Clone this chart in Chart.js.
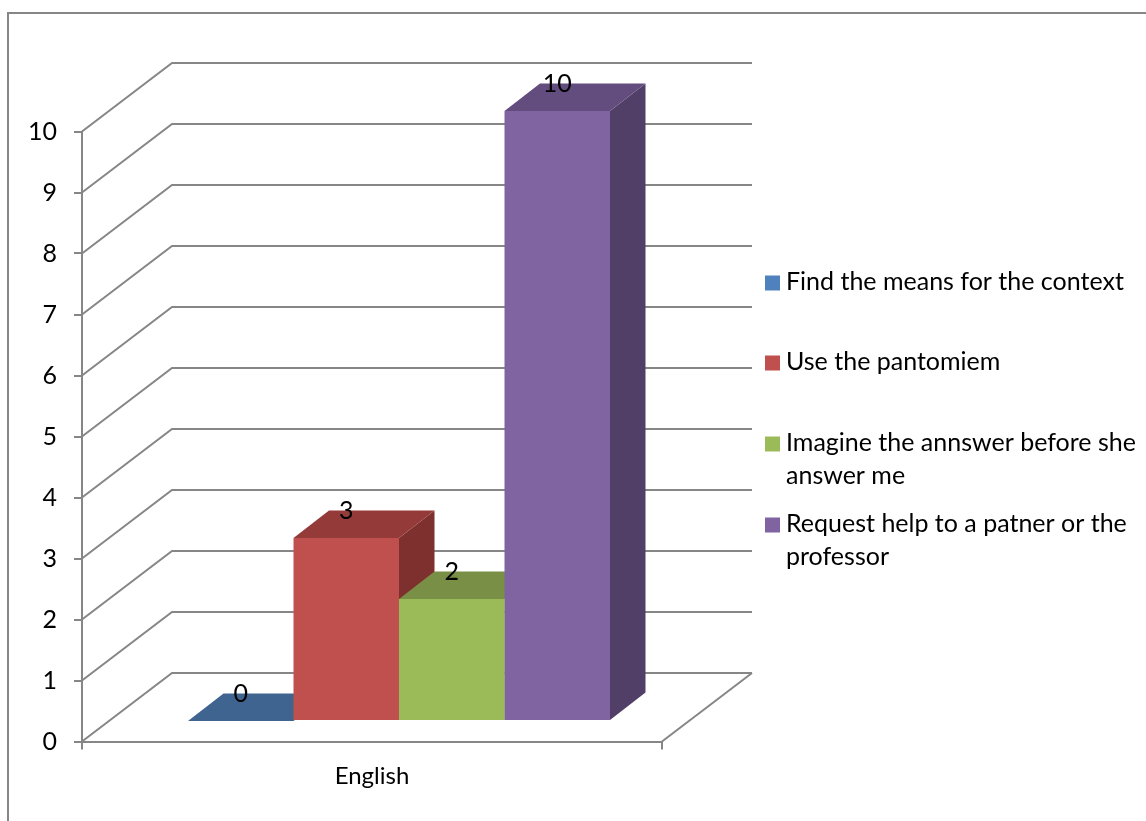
<!DOCTYPE html>
<html>
<head>
<meta charset="utf-8">
<title>English</title>
<script src="https://cdn.jsdelivr.net/npm/chart.js@4"></script>
<style>
    html, body { margin: 0; padding: 0; background: #fff; overflow: hidden; }
    #frame { position: absolute; left: 7px; top: 12px; right: 0; bottom: 0; border-top: 2px solid #868686; border-left: 2px solid #868686; }
    #chart { position: absolute; left: 0; top: 0; }
</style>
</head>
<body>
<div id="frame"></div>
<canvas id="chart" width="1146" height="821"></canvas>
<script>
// Data
const categories = ['English'];
const seriesNames = [
    'Find the means for the context',
    'Use the pantomiem',
    'Imagine the annswer before she answer me',
    'Request help to a patner or the professor'
];
const findMeans = [0];
const usePantomime = [3];
const imagineAnswer = [2];
const requestHelp = [10];
const yTicks = [0, 1, 2, 3, 4, 5, 6, 7, 8, 9, 10];

// Colours: front, top and side face of each bar
const frontColors = ['#4F81BD', '#C0504D', '#9BBB59', '#8064A2'];
const topColors = ['#3F6490', '#943B39', '#788F45', '#634C7E'];
const sideColors = ['#34527A', '#7D302E', '#657A3A', '#523F68'];

const GRID = '#868686';
const FONT = 'Lato, Carlito, sans-serif';
const FONT_SIZE = 25;

// Back wall offset and bar offset of the fake 3D view
const WALL_DX = 90, WALL_DY = -68.5;
const BAR_DX = 27, BAR_DY = -20.5;
const BAR_DEPTH_X = 35.5, BAR_DEPTH_Y = -27.5;

// Legend text split the way the reference wraps it
const legendLines = [
    [seriesNames[0]],
    [seriesNames[1]],
    ['Imagine the annswer before she', 'answer me'],
    ['Request help to a patner or the', 'professor']
];
const legendRows = [282, 362, 443, 524];
const LEGEND_LINE = 32.5;

function poly(ctx, color, pts) {
    ctx.fillStyle = color;
    ctx.beginPath();
    pts.forEach((p, i) => i ? ctx.lineTo(p[0], p[1]) : ctx.moveTo(p[0], p[1]));
    ctx.closePath();
    ctx.fill();
}

const fake3d = {
    id: 'fake3d',
    beforeDatasetsDraw(chart) {
        const { ctx, chartArea, scales } = chart;
        // Walls and floor
        ctx.save();
        ctx.strokeStyle = GRID;
        ctx.lineWidth = 2;
        yTicks.forEach(v => {
            const y = scales.y.getPixelForValue(v);
            ctx.beginPath();
            ctx.moveTo(chartArea.left, y);
            ctx.lineTo(chartArea.left + WALL_DX, y + WALL_DY);
            ctx.lineTo(chartArea.right + WALL_DX, y + WALL_DY);
            ctx.stroke();
        });
        ctx.beginPath();
        ctx.moveTo(chartArea.right, chartArea.bottom);
        ctx.lineTo(chartArea.right + WALL_DX, chartArea.bottom + WALL_DY);
        ctx.stroke();
        ctx.restore();

        // Depth faces go left to right, the library then puts the fronts on top
        ctx.save();
        ctx.translate(BAR_DX, BAR_DY);
        chart.data.datasets.forEach((ds, i) => {
            const bar = chart.getDatasetMeta(i).data[0];
            const l = bar.x - bar.width / 2, r = bar.x + bar.width / 2;
            const t = bar.y, b = bar.base;
            if (b > t) {
                poly(ctx, sideColors[i], [[r, t], [r + BAR_DEPTH_X, t + BAR_DEPTH_Y], [r + BAR_DEPTH_X, b + BAR_DEPTH_Y], [r, b]]);
            }
            poly(ctx, topColors[i], [[l, t], [l + BAR_DEPTH_X, t + BAR_DEPTH_Y], [r + BAR_DEPTH_X, t + BAR_DEPTH_Y], [r, t]]);
        });
    },
    afterDatasetsDraw(chart) {
        const { ctx } = chart;
        ctx.restore();

        // Value labels, centred on the back edge of each bar top
        ctx.save();
        ctx.font = FONT_SIZE + 'px ' + FONT;
        ctx.fillStyle = '#000';
        ctx.textAlign = 'center';
        ctx.textBaseline = 'middle';
        chart.data.datasets.forEach((ds, i) => {
            const bar = chart.getDatasetMeta(i).data[0];
            ctx.fillText(String(ds.data[0]), bar.x + BAR_DX, bar.y + BAR_DY + BAR_DEPTH_Y);
        });
        ctx.restore();
    },
    afterDraw(chart) {
        const { ctx } = chart;
        ctx.save();
        ctx.font = FONT_SIZE + 'px ' + FONT;
        ctx.textAlign = 'left';
        ctx.textBaseline = 'middle';
        legendLines.forEach((lines, i) => {
            ctx.fillStyle = frontColors[i];
            ctx.fillRect(765, legendRows[i] - 6.5, 15, 15);
            ctx.fillStyle = '#000';
            lines.forEach((line, n) => ctx.fillText(line, 786, legendRows[i] + n * LEGEND_LINE));
        });
        ctx.restore();
    }
};

new Chart(document.getElementById('chart'), {
    type: 'bar',
    data: {
        labels: categories,
        datasets: [findMeans, usePantomime, imagineAnswer, requestHelp].map((values, i) => ({
            label: seriesNames[i],
            data: values,
            backgroundColor: frontColors[i],
            borderWidth: 0,
            barPercentage: 1,
            categoryPercentage: 0.7276
        }))
    },
    options: {
        responsive: false,
        animation: false,
        layout: { padding: { left: 0, top: 131.5, right: 484, bottom: 0 } },
        plugins: { legend: { display: false }, tooltip: { enabled: false } },
        scales: {
            x: {
                afterFit: s => { s.height = 79.5; },
                border: { color: GRID, width: 2 },
                grid: { drawOnChartArea: false, color: GRID, lineWidth: 2, tickLength: 8 },
                ticks: { color: '#000', padding: 12, maxRotation: 0, font: { family: FONT, size: 24 } }
            },
            y: {
                min: 0,
                max: 10,
                afterFit: s => { s.width = 82; },
                afterBuildTicks: s => { s.ticks = yTicks.map(v => ({ value: v })); },
                border: { color: GRID, width: 2 },
                grid: { drawOnChartArea: false, color: GRID, lineWidth: 2, tickLength: 8 },
                ticks: { color: '#000', padding: 17, font: { family: FONT, size: FONT_SIZE } }
            }
        }
    },
    plugins: [fake3d]
});
</script>
</body>
</html>
